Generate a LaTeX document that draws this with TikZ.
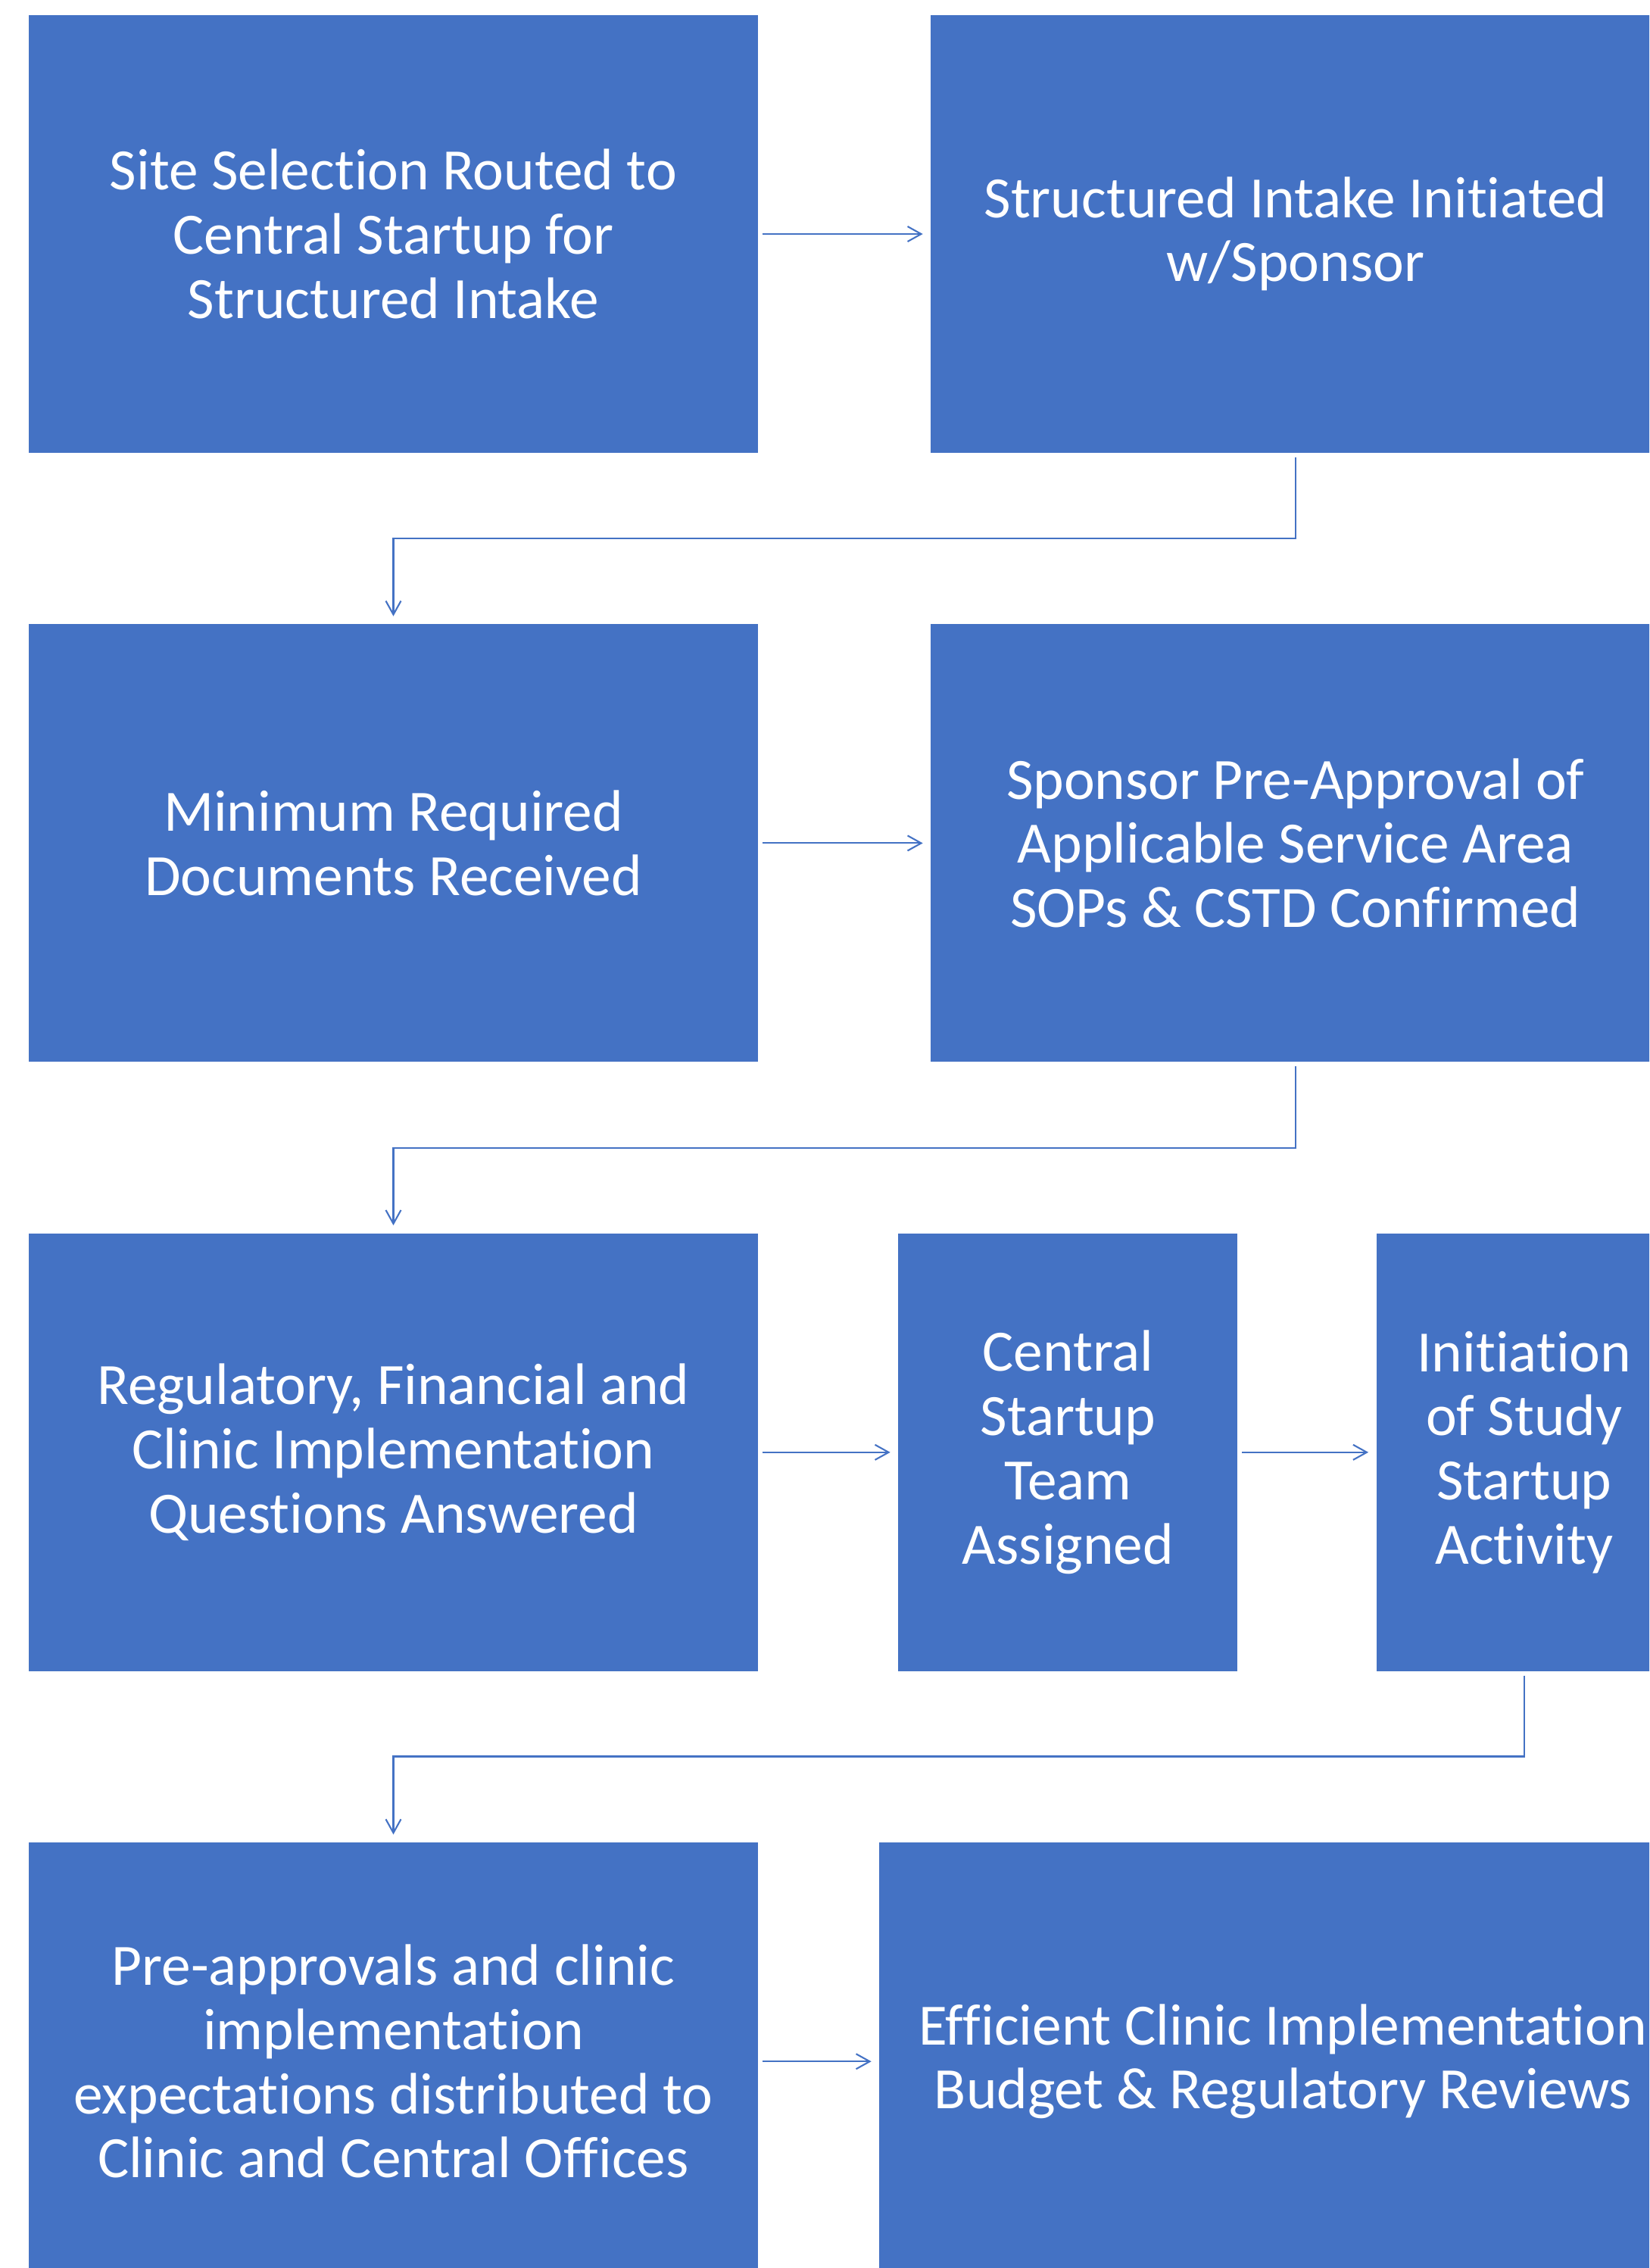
\documentclass[tikz,border=0pt]{standalone}
\usepackage{fontspec}
\setmainfont{Carlito}[Ligatures={NoCommon}]
\usepackage{xcolor}
\usetikzlibrary{arrows.meta,positioning,calc}
\definecolor{officeblue}{HTML}{4472C4}

\begin{document}
\begin{tikzpicture}[
    stepbox/.style={rectangle, fill=officeblue, text=white, align=center, minimum height=5.78cm, inner sep=2pt, font=\fontsize{22}{24.1}\selectfont},
    wide/.style={stepbox, minimum width=9.63cm},
    arrow/.style={-{Straight Barb[length=1.8mm,width=2mm]}, draw=officeblue, line width=0.6pt, shorten >=1mm, shorten <=0.5mm},
    node distance=2.25cm
]
    \clip (0,0) rectangle (21.78,-29.95);
    \node[wide] (intake) at (5.195,-3.09) {Site Selection Routed to\\Central Startup for\\Structured Intake};
    \node[wide, right=2.27cm of intake] (sponsor) {Structured Intake Initiated\\w/Sponsor};
    \node[wide, below=of intake] (docs) {Minimum Required\\Documents Received};
    \node[wide, right=2.27cm of docs] (preapp) {Sponsor Pre-Approval of\\Applicable Service Area\\SOPs \& CSTD Confirmed};
    \node[wide, below=of docs] (questions) {Regulatory, Financial and\\Clinic Implementation\\Questions Answered};
    \node[stepbox, minimum width=4.48cm, right=1.84cm of questions] (team) {Central\\Startup\\Team\\Assigned};
    \node[stepbox, minimum width=3.90cm, right=1.82cm of team] (init) {Initiation\\of Study\\Startup\\Activity};
    \node[wide, below=of questions] (distrib) {Pre-approvals and clinic\\implementation\\expectations distributed to\\Clinic and Central Offices};
    \node[stepbox, minimum width=10.66cm, right=1.59cm of distrib] (reviews) {Efficient Clinic Implementation\\Budget \& Regulatory Reviews};

    \draw[arrow] (intake) -- (sponsor);
    \draw[arrow] (sponsor.south) -- ++(0,-1.125) -| (docs.north);
    \draw[arrow] (docs) -- (preapp);
    \draw[arrow] (preapp.south) -- ++(0,-1.125) -| (questions.north);
    \draw[arrow] (questions) -- (team);
    \draw[arrow] (team) -- (init);
    \draw[arrow] (init.south) -- ++(0,-1.12) -| (distrib.north);
    \draw[arrow] (distrib) -- (reviews);
\end{tikzpicture}
\end{document}
